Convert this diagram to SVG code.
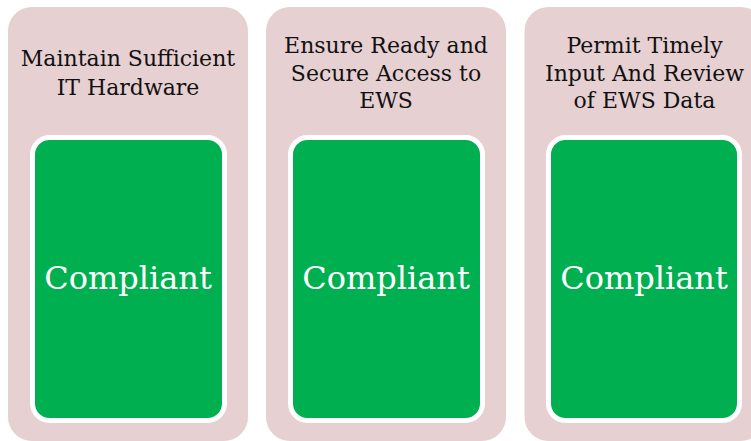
<svg xmlns="http://www.w3.org/2000/svg" width="751" height="441" viewBox="0 0 751 441">
<style>
.outer{fill:#E7D0D1;}
.inner{fill:#00B050;stroke:#FFFFFF;stroke-width:5;}
.title{font-family:"DejaVu Serif","Liberation Serif",serif;font-size:22px;fill:#111111;text-anchor:middle;}
.status{font-family:"DejaVu Serif","Liberation Serif",serif;font-size:32px;fill:#FFFFFF;text-anchor:middle;}
</style>
<rect width="751" height="441" fill="#FFFFFF"/>
<g id="node1">
<rect class="outer" x="8" y="7" width="240" height="434" rx="24"/>
<text class="title" x="128" y="66">Maintain Sufficient</text>
<text class="title" x="128" y="95">IT Hardware</text>
<rect class="inner" x="32.5" y="137.5" width="192" height="283" rx="17"/>
<text class="status" x="128" y="289">Compliant</text>
</g>
<g id="node2">
<rect class="outer" x="266" y="7" width="240" height="434" rx="24"/>
<text class="title" x="386" y="53">Ensure Ready and</text>
<text class="title" x="386" y="81">Secure Access to</text>
<text class="title" x="386" y="108">EWS</text>
<rect class="inner" x="290.5" y="137.5" width="192" height="283" rx="17"/>
<text class="status" x="386" y="289">Compliant</text>
</g>
<g id="node3">
<rect class="outer" x="524.5" y="7" width="240" height="434" rx="24"/>
<text class="title" x="644.5" y="53">Permit Timely</text>
<text class="title" x="644.5" y="81">Input And Review</text>
<text class="title" x="644.5" y="108">of EWS Data</text>
<rect class="inner" x="548.5" y="137.5" width="191" height="283" rx="17"/>
<text class="status" x="644" y="289">Compliant</text>
</g>
<g id="connectors"></g>
</svg>
